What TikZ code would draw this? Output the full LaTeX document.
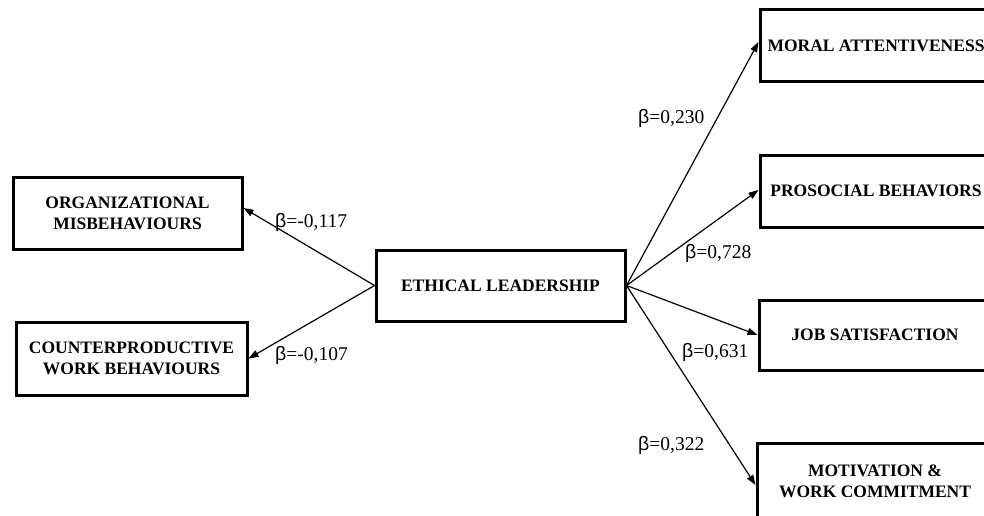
\documentclass[tikz,border=0pt]{standalone}
\usepackage{fontspec}
\setmainfont{Liberation Serif}
\newfontfamily\betafont{Liberation Sans}
\usetikzlibrary{arrows.meta}
\begin{document}
\begin{tikzpicture}[x=1pt,y=-1pt,
  varbox/.style={draw=black, line width=3pt, fill=white, inner sep=0pt, align=center,
    font=\fontsize{17.5}{21}\selectfont\bfseries},
  path/.style={line width=1.2pt, -{Triangle[length=10pt,width=7pt]}},
  coef/.style={anchor=west, inner sep=0pt, font=\fontsize{19.5}{22}\selectfont}]
\useasboundingbox[fill=white] (0,0) rectangle (984,516);
\node[varbox, minimum width=249pt, minimum height=71pt] (EL) at (500.5,285.5) {ETHICAL LEADERSHIP};
\node[varbox, minimum width=229pt, minimum height=72pt] (ORG) at (127.5,213) {ORGANIZATIONAL\\MISBEHAVIOURS};
\node[varbox, minimum width=231pt, minimum height=73pt] (CWB) at (131.5,358.5) {COUNTERPRODUCTIVE\\WORK BEHAVIOURS};
\node[varbox, minimum width=232pt, minimum height=72pt] (MOR) at (876,46) {MORAL ATTENTIVENESS};
\node[varbox, minimum width=232pt, minimum height=72pt] (PRO) at (876,191) {PROSOCIAL BEHAVIORS};
\node[varbox, minimum width=232pt, minimum height=70pt] (JOB) at (875,335) {JOB SATISFACTION};
\node[varbox, minimum width=236pt, minimum height=76pt] (MOT) at (875,481) {MOTIVATION \&\\WORK COMMITMENT};
\draw[path] (EL.west) -- ([yshift=5pt]ORG.east);
\draw[path] (EL.west) -- (CWB.east);
\draw[path] (EL.east) -- ([yshift=4pt]MOR.west);
\draw[path] (EL.east) -- ([yshift=1pt]PRO.west);
\draw[path] (EL.east) -- (JOB.west);
\draw[path] (EL.east) -- ([yshift=-4pt]MOT.west);
\node[coef] (b1) at (275,222) {{\betafont β}=-0,117};
\node[coef] (b2) at (275,355) {{\betafont β}=-0,107};
\node[coef] (b3) at (638,118) {{\betafont β}=0,230};
\node[coef] (b4) at (685,253) {{\betafont β}=0,728};
\node[coef] (b5) at (682,352) {{\betafont β}=0,631};
\node[coef] (b6) at (638,445) {{\betafont β}=0,322};
\end{tikzpicture}
\end{document}
